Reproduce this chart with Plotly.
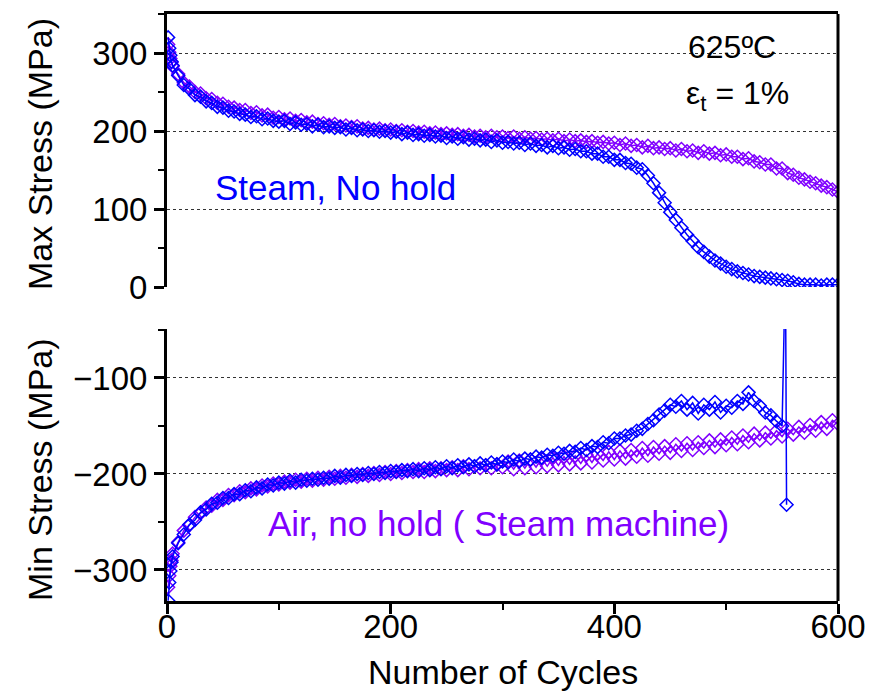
import plotly.graph_objects as go

# ---------------- data ----------------
cycles = [1, 2, 3, 4] + list(range(5, 601, 5))

steam_max = [320, 306, 297, 289, 284,
             271, 259, 254, 246, 244, 238, 236, 231, 230, 226, 225, 222, 221, 218, 219, 215, 216, 213, 212,
             213, 209, 211, 208, 209, 206, 208, 205, 206, 204, 205, 202, 204, 201, 202, 200, 201, 199, 200, 198,
             199, 196, 198, 195, 196, 194, 195, 193, 194, 191, 193, 190, 192, 189, 190, 188, 189, 186, 188, 185,
             186, 184, 185, 182, 184, 181, 182, 179, 181, 178, 179, 176, 177, 174, 174, 171, 171, 167, 167, 163,
             163, 159, 158, 153, 151, 143, 133, 121, 108, 96, 86, 76, 67, 59, 51, 45, 39, 34, 30, 26,
             23, 20, 18, 16, 14, 13, 12, 11, 10, 9, 8, 6, 4, 3, 3, 3, 2, 3, 3, 3]

air_max = [311, 301, 293, 288, 283,
           273, 262, 257, 250, 248, 242, 241, 236, 235, 231, 230, 227, 227, 223, 224, 220, 221, 217, 218,
           215, 216, 213, 214, 211, 212, 209, 210, 208, 209, 206, 207, 205, 206, 203, 204, 202, 203, 201, 202,
           200, 201, 199, 200, 198, 199, 197, 198, 196, 197, 195, 196, 194, 195, 193, 194, 192, 194, 192, 193,
           191, 193, 190, 192, 190, 191, 189, 190, 188, 190, 187, 189, 187, 188, 186, 187, 185, 186, 184, 185,
           182, 184, 181, 182, 179, 181, 178, 179, 177, 178, 175, 177, 174, 175, 172, 174, 171, 172, 169, 170,
           167, 167, 164, 165, 161, 160, 157, 157, 152, 152, 146, 144, 140, 138, 135, 133, 130, 128, 125, 122]

steam_min_cycles = [1, 2, 3, 4] + list(range(5, 551, 5)) + [553, 554]
steam_min = [-332, -313, -301, -292, -286,
             -272, -263, -253, -248, -240, -237, -231, -230, -225, -225, -221, -221, -217, -218, -214, -215, -211, -212, -209,
             -210, -207, -209, -206, -207, -205, -206, -204, -205, -202, -204, -201, -202, -200, -201, -199, -200, -198, -199, -197,
             -198, -196, -197, -195, -197, -194, -196, -193, -195, -192, -194, -191, -193, -190, -192, -189, -191, -188, -190, -187,
             -188, -185, -187, -184, -185, -182, -183, -180, -181, -178, -179, -176, -177, -173, -175, -171, -172, -167, -168, -163,
             -163, -160, -159, -155, -153, -148, -144, -138, -134, -128, -130, -124, -133, -126, -137, -128, -133, -125, -136, -129,
             -131, -124, -127, -115, -124, -129, -136, -139, -145, -150,
             20, -232]

air_min = [-318, -306, -296, -290, -283,
           -271, -259, -253, -245, -241, -235, -233, -227, -227, -222, -222, -218, -219, -215, -216, -212, -213, -210, -211,
           -208, -209, -206, -208, -205, -207, -204, -206, -203, -205, -202, -204, -201, -203, -200, -202, -199, -201, -198, -200,
           -197, -199, -196, -198, -195, -198, -194, -197, -194, -196, -193, -196, -192, -195, -192, -194, -191, -194, -190, -193,
           -187, -195, -186, -194, -185, -193, -184, -192, -183, -191, -182, -190, -181, -189, -180, -188, -179, -186, -177, -185,
           -176, -184, -175, -182, -173, -181, -172, -179, -171, -178, -169, -176, -168, -175, -167, -173, -165, -172, -164, -170,
           -162, -169, -160, -167, -158, -165, -157, -163, -155, -161, -153, -159, -151, -157, -149, -155, -146, -153, -144, -148]

x_ticks = [0, 200, 400, 600]
max_ticks = [0, 100, 200, 300]
min_ticks = [-100, -200, -300]

BLUE = "#0000FF"
PURPLE = "#8000FF"
FONT = "Liberation Sans, Arial, Helvetica, sans-serif"

fig = go.Figure()

def add_series(x, y, color, xa, ya):
    fig.add_trace(go.Scatter(
        x=x, y=y, mode="lines+markers", xaxis=xa, yaxis=ya,
        line=dict(color=color, width=1.5),
        marker=dict(symbol="diamond-open", size=10, color=color, line=dict(width=1.5, color=color)),
        showlegend=False, cliponaxis=True))

add_series(cycles, air_max, PURPLE, "x", "y")
add_series(cycles, steam_max, BLUE, "x", "y")
add_series(cycles, air_min, PURPLE, "x2", "y2")
add_series(steam_min_cycles, steam_min, BLUE, "x2", "y2")

grid = dict(showgrid=True, gridcolor="#333333", griddash="dot", gridwidth=1.2)
common_y = dict(showline=True, linecolor="black", linewidth=3, ticks="outside", ticklen=10,
                tickwidth=3, tickcolor="black", zeroline=False,
                tickfont=dict(size=33, color="black", family=FONT), **grid)

# the page body adds an 8 px offset, so the figure is 8 px smaller and margins shifted
W, H = 867, 686
PL, PR, PT, PB = 159, 830, 6, 593   # plot area in figure pixels
PW, PH = PR - PL, PB - PT

def px(xp):
    return (xp - 8 - PL) / PW

def py(yp):
    return (PB - (yp - 8)) / PH

fig.update_layout(
    width=W, height=H,
    margin=dict(l=PL, r=W - PR, t=PT, b=H - PB),
    paper_bgcolor="white", plot_bgcolor="white",
    font=dict(family=FONT, color="black"),
    xaxis=dict(domain=[0, 1], range=[0, 600], anchor="y", side="top", showline=True,
               linecolor="black", linewidth=3, ticks="", showticklabels=False,
               showgrid=False, zeroline=False),
    yaxis=dict(domain=[0.5349, 1], range=[0, 350], anchor="x", tickvals=max_ticks,
               minor=dict(ticks="outside", ticklen=6, tickwidth=2, dtick=50, tick0=0,
                          showgrid=False, tickcolor="black"),
               **common_y),
    xaxis2=dict(domain=[0, 1], range=[0, 600], anchor="y2", showline=True, linecolor="black",
                linewidth=3, ticks="outside", ticklen=10, tickwidth=3, tickcolor="black",
                tickvals=x_ticks, showgrid=False, zeroline=False, ticklabelstandoff=-16,
                minor=dict(ticks="outside", ticklen=6, tickwidth=2, dtick=100, tick0=0,
                           tickcolor="black"),
                tickfont=dict(size=33, color="black", family=FONT)),
    yaxis2=dict(domain=[0, 0.4634], range=[-332.3, -49], anchor="x2", tickvals=min_ticks,
                minor=dict(ticks="outside", ticklen=6, tickwidth=2, dtick=50, tick0=0,
                           showgrid=False, tickcolor="black"),
                **common_y),
)

fig.add_shape(type="line", xref="paper", yref="paper", x0=1, x1=1, y0=0, y1=1,
              line=dict(color="black", width=3), layer="above")

ann = [
    dict(text="Max Stress (MPa)", x=px(40), y=py(154), textangle=-90, size=34, color="black"),
    dict(text="Min Stress (MPa)", x=px(40), y=py(470), textangle=-90, size=34, color="black"),
    dict(text="Number of Cycles", x=px(503), y=py(672), textangle=0, size=34, color="black"),
    dict(text="Steam, No hold", x=px(335), y=py(187), textangle=0, size=35, color=BLUE),
    dict(text="Air, no hold ( Steam machine)", x=px(498), y=py(523), textangle=0, size=35, color=PURPLE),
]
for a in ann:
    fig.add_annotation(text=a["text"], x=a["x"], y=a["y"], xref="paper", yref="paper",
                       textangle=a["textangle"], showarrow=False, xanchor="center", yanchor="middle",
                       font=dict(size=a["size"], color=a["color"], family=FONT))

fig.add_annotation(text="625ºC", x=px(686), y=py(47), xref="paper", yref="paper",
                   showarrow=False, xanchor="left", yanchor="middle",
                   font=dict(size=32, color="black", family=FONT))
fig.add_annotation(text="ε<sub>t</sub> = 1%", x=px(684), y=py(95), xref="paper",
                   yref="paper", showarrow=False, xanchor="left", yanchor="middle",
                   font=dict(size=32, color="black", family=FONT))

fig.write_html("out.html")
